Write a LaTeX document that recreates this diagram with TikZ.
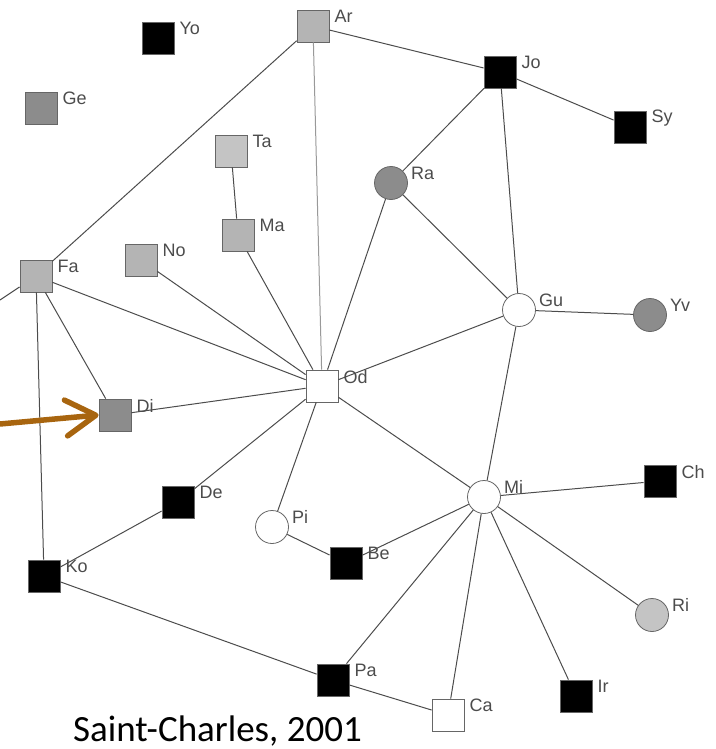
\documentclass[tikz,border=0pt]{standalone}
\usepackage{fontspec}
\setmainfont{Liberation Sans}
\newfontfamily\capfont{Carlito}
\usetikzlibrary{arrows.meta}
\definecolor{midgray}{HTML}{8C8C8C}
\definecolor{lightgray2}{HTML}{B4B4B4}
\definecolor{palegray}{HTML}{C4C4C4}
\definecolor{arrowbrown}{HTML}{A8650F}
\newcommand\sqlab[2]{\node[lab] (#1l) at ([xshift=5pt,yshift=-7pt]#1.north east) {#2};}
\newcommand\cilab[2]{\node[lab] (#1l) at ([xshift=8pt,yshift=-2pt]#1.north east) {#2};}
\begin{document}
\begin{tikzpicture}[x=1pt,y=-1pt,
  sq/.style={rectangle, draw=black!60, line width=0.8pt, minimum size=32pt, inner sep=0pt},
  ci/.style={circle, draw=black!60, line width=0.8pt, minimum size=33pt, inner sep=0pt},
  blk/.style={fill=black},
  midg/.style={fill=midgray},
  ltg/.style={fill=lightgray2},
  pale/.style={fill=palegray},
  wht/.style={fill=white},
  lab/.style={font=\fontsize{18}{18}\selectfont, text=black!70, inner sep=0pt, anchor=west},
  edge/.style={draw=black!70, line width=1pt},
  lightedge/.style={draw=black!40, line width=1pt},
  brownarrow/.style={draw=arrowbrown, line width=5.5pt, line cap=round,
    -{Straight Barb[length=30pt, width=36pt, round]}},
]
\useasboundingbox (0,0) rectangle (715,749);

% nodes
\node[sq,blk]  (Yo) at (158,38)  {};
\node[sq,ltg]  (Ar) at (313,26)  {};
\node[sq,midg] (Ge) at (41,108)  {};
\node[sq,blk]  (Jo) at (500,72)  {};
\node[sq,blk]  (Sy) at (630,127) {};
\node[sq,pale] (Ta) at (231,151) {};
\node[ci,midg] (Ra) at (391,183) {};
\node[sq,ltg]  (Ma) at (238,235) {};
\node[sq,ltg]  (No) at (141,260) {};
\node[sq,ltg]  (Fa) at (36,276)  {};
\node[ci,wht]  (Gu) at (519,310) {};
\node[ci,midg] (Yv) at (650,315) {};
\node[sq,wht]  (Od) at (322,386) {};
\node[sq,midg] (Di) at (115,415) {};
\node[sq,blk]  (De) at (178,502) {};
\node[ci,wht]  (Mi) at (484,497) {};
\node[sq,blk]  (Ch) at (660,481) {};
\node[ci,wht]  (Pi) at (272,527) {};
\node[sq,blk]  (Be) at (346,563) {};
\node[sq,blk]  (Ko) at (44,576)  {};
\node[ci,pale] (Ri) at (652,615) {};
\node[sq,blk]  (Pa) at (333,680) {};
\node[sq,wht]  (Ca) at (448,715) {};
\node[sq,blk]  (Ir) at (576,696) {};

% labels
\sqlab{Yo}{Yo}
\sqlab{Ar}{Ar}
\sqlab{Ge}{Ge}
\sqlab{Jo}{Jo}
\sqlab{Sy}{Sy}
\sqlab{Ta}{Ta}
\cilab{Ra}{Ra}
\sqlab{Ma}{Ma}
\sqlab{No}{No}
\sqlab{Fa}{Fa}
\cilab{Gu}{Gu}
\cilab{Yv}{Yv}
\sqlab{Od}{Od}
\sqlab{Di}{Di}
\sqlab{De}{De}
\cilab{Mi}{Mi}
\sqlab{Ch}{Ch}
\cilab{Pi}{Pi}
\sqlab{Be}{Be}
\sqlab{Ko}{Ko}
\cilab{Ri}{Ri}
\sqlab{Pa}{Pa}
\sqlab{Ca}{Ca}
\sqlab{Ir}{Ir}

% edges
\coordinate (leftend) at (0,300);
\draw[edge] (Ar) -- (Jo);
\draw[edge] (Ar) -- (Fa);
\draw[lightedge] (Ar) -- (Od);
\draw[edge] (Jo) -- (Sy);
\draw[edge] (Jo) -- (Ra);
\draw[edge] (Jo) -- (Gu);
\draw[edge] (Ta) -- (Ma);
\draw[edge] (Ra) -- (Od);
\draw[edge] (Ra) -- (Gu);
\draw[edge] (Ma) -- (Od);
\draw[edge] (No) -- (Od);
\draw[edge] (Fa) -- (Od);
\draw[edge] (Fa) -- (Di);
\draw[edge] (Fa) -- (Ko);
\draw[edge] (Fa) -- (leftend);
\draw[edge] (Di) -- (Od);
\draw[edge] (Od) -- (Gu);
\draw[edge] (Od) -- (Mi);
\draw[edge] (Od) -- (De);
\draw[edge] (Od) -- (Pi);
\draw[edge] (Gu) -- (Yv);
\draw[edge] (Gu) -- (Mi);
\draw[edge] (Mi) -- (Ch);
\draw[edge] (Mi) -- (Ri);
\draw[edge] (Mi) -- (Ir);
\draw[edge] (Mi) -- (Ca);
\draw[edge] (Mi) -- (Pa);
\draw[edge] (Mi) -- (Be);
\draw[edge] (Pi) -- (Be);
\draw[edge] (De) -- (Ko);
\draw[edge] (Ko) -- (Pa);
\draw[edge] (Pa) -- (Ca);

% arrow
\coordinate (arrowstart) at (0,424);
\draw[brownarrow] (arrowstart) -- (Di.west);

% caption
\node[font=\capfont\fontsize{37}{40}\selectfont, anchor=base west, inner sep=0pt] (cap) at (73,741) {Saint-Charles, 2001};
\end{tikzpicture}
\end{document}
